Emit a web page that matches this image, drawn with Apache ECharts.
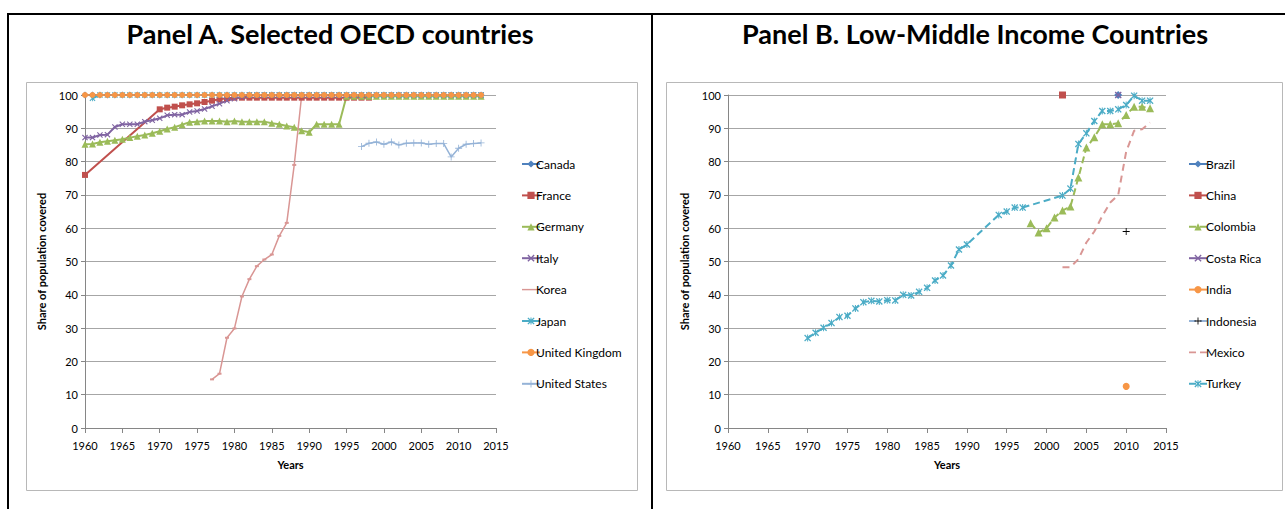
<!DOCTYPE html>
<html>
<head>
<meta charset="utf-8">
<script src="https://cdn.jsdelivr.net/npm/echarts@6/dist/echarts.min.js"></script>
<style>
  html, body { margin: 0; padding: 0; background: #fff; }
  #chart { width: 1285px; height: 509px; }
</style>
</head>
<body>
<div id="chart"></div>
<script>
// ---- Panel A: selected OECD countries (share of population covered, %) ----
const canadaStart = 1960;
const canadaVals = [100,100,100,100,100,100,100,100,100,100,100,100,100,100,100,100,100,100,100,100,
  100,100,100,100,100,100,100,100,100,100,100,100,100,100,100,100,100,100,100,100,
  100,100,100,100,100,100,100,100,100,100,100,100,100,100];

const franceYears = [1960,1970,1971,1972,1973,1974,1975,1976,1977,1978,1979,1980,1981,1982,1983,1984,
  1985,1986,1987,1988,1989,1990,1991,1992,1993,1994,1995,1996,1997,1998];
const franceVals = [76.0,95.7,96.2,96.5,96.9,97.2,97.5,97.9,98.3,98.7,99.0,99.2,99.2,99.2,99.2,99.2,
  99.2,99.2,99.2,99.2,99.2,99.2,99.2,99.2,99.2,99.2,99.2,99.2,99.2,99.2];

const germanyStart = 1960;
const germanyVals = [85.2,85.3,85.8,86.1,86.4,86.7,87.2,87.6,88.0,88.5,89.1,89.8,90.3,91.1,91.8,92.0,
  92.2,92.2,92.2,92.0,92.2,92.0,92.0,92.0,92.0,91.5,91.2,90.7,90.3,89.3,88.8,91.2,91.2,91.2,91.2,
  99.6,99.6,99.6,99.6,99.6,99.6,99.6,99.6,99.6,99.6,99.6,99.6,99.6,99.6,99.6,99.6,99.6,99.6,99.6];

const italyStart = 1960;
const italyVals = [87.2,87.2,88.0,88.1,90.4,91.2,91.2,91.2,92.0,92.4,93.0,93.9,94.1,94.1,94.9,95.2,
  95.8,96.6,97.4,98.3,98.9,99.4,
  100,100,100,100,100,100,100,100,100,100,100,100,100,100,100,100,100,100,100,100,
  100,100,100,100,100,100,100,100,100,100,100,100];

const koreaStart = 1977;
const koreaVals = [14.6,16.3,27.1,29.9,39.5,44.7,48.6,50.6,52.1,57.7,61.6,79.0,
  100,100,100,100,100,100,100,100,100,100,100,100,100,100,100,100,100,100,100,100,100,100,100,100,100];

const japanStart = 1961;
const japanVals = [99.0,100,100,100,100,100,100,100,100,100,100,100,100,100,100,100,100,100,100,100,
  100,100,100,100,100,100,100,100,100,100,100,100,100,100,100,100,100,100,100,100,
  100,100,100,100,100,100,100,100,100,100,100,100,100];

const ukStart = 1960;
const ukVals = [100,100,100,100,100,100,100,100,100,100,100,100,100,100,100,100,100,100,100,100,
  100,100,100,100,100,100,100,100,100,100,100,100,100,100,100,100,100,100,100,100,
  100,100,100,100,100,100,100,100,100,100,100,100,100,100];

const usStart = 1997;
const usVals = [84.5,85.5,85.9,85.2,85.9,85.0,85.5,85.6,85.6,85.2,85.4,85.4,81.4,84.0,85.2,85.4,85.6];

// ---- Panel B: low-middle income countries ----
const brazilYears = [2009];      const brazilVals = [100];
const chinaYears = [2002];       const chinaVals = [100];
const colombiaStart = 1998;
const colombiaVals = [61.5,58.7,60.0,63.2,65.3,66.5,75.2,84.2,87.3,91.2,91.2,91.5,94.0,96.5,96.5,96.0];
const costaRicaYears = [2009];   const costaRicaVals = [100];
const indiaYears = [2010];       const indiaVals = [12.5];
const indonesiaYears = [2010];   const indonesiaVals = [59.0];
const mexicoStart = 2002;
const mexicoVals = [48.3,48.3,50.7,55.7,59.0,63.7,67.7,70.0,83.0,89.3,89.7,91.7];
const turkeyYears = [1970,1971,1972,1973,1974,1975,1976,1977,1978,1979,1980,1981,1982,1983,1984,1985,
  1986,1987,1988,1989,1990,1994,1995,1996,1997,2002,2003,2004,2005,2006,2007,2008,2009,2010,2011,2012,2013];
const turkeyVals = [27.0,28.6,30.1,31.5,33.3,33.7,35.9,37.8,38.2,38.0,38.4,38.3,40.0,39.8,40.9,42.1,
  44.3,45.8,48.8,53.6,55.1,64.0,65.0,66.2,66.2,69.8,71.9,85.3,88.5,92.2,95.2,95.2,95.7,97.0,99.8,98.3,98.3];

// axis ticks
const yearTicks = { min: 1960, max: 2015, step: 5 };
const shareTicks = { min: 0, max: 100, step: 10 };

const namesA = ['Canada','France','Germany','Italy','Korea','Japan','United Kingdom','United States'];
const namesB = ['Brazil','China','Colombia','Costa Rica','India','Indonesia','Mexico','Turkey'];

// ---- helpers ----
function span(start, n) { const out = []; for (let i = 0; i < n; i++) out.push(start + i); return out; }
function pairs(years, vals) { return years.map((y, i) => [y, vals[i]]); }

const FONT = 'Lato, "Open Sans", "Liberation Sans", sans-serif';
const SYM_X = 'path://M0,1.3L1.3,0L5,3.7L8.7,0L10,1.3L6.3,5L10,8.7L8.7,10L5,6.3L1.3,10L0,8.7L3.7,5Z';
const SYM_AST = 'path://M0,1.3L1.3,0L5,3.7L8.7,0L10,1.3L6.3,5L10,8.7L8.7,10L5,6.3L1.3,10L0,8.7L3.7,5ZM4.3,0L5.7,0L5.7,10L4.3,10Z';
const SYM_PLUS = 'path://M4.4,0L5.6,0L5.6,4.4L10,4.4L10,5.6L5.6,5.6L5.6,10L4.4,10L4.4,5.6L0,5.6L0,4.4L4.4,4.4Z';
// legend keys for series drawn without visible markers
const KEY_SOLID = 'path://M0,0L20,0L20,1.6L0,1.6Z';
const KEY_DASHED = 'path://M0,0L7,0L7,1.6L0,1.6ZM11,0L18,0L18,1.6L11,1.6Z';

const C = {
  blue: '#4F81BD', red: '#C0504D', green: '#9BBB59', purple: '#8064A2',
  pink: '#D99694', aqua: '#4BACC6', orange: '#F79646', lightBlue: '#95B3D7'
};

function line(name, grid, data, color, symbol, size, extra) {
  extra = extra || {};
  return {
    name, type: 'line', xAxisIndex: grid, yAxisIndex: grid, data,
    symbol, symbolSize: size, showSymbol: true, connectNulls: true,
    lineStyle: { color: extra.lineColor || color, width: extra.width || 2, type: extra.dash || 'solid' },
    itemStyle: { color: extra.markColor || color },
    emphasis: { disabled: true }, animation: false, z: 2
  };
}

const series = [
  line('Canada', 0, pairs(span(canadaStart, canadaVals.length), canadaVals), C.blue, 'diamond', 7),
  line('France', 0, pairs(franceYears, franceVals), C.red, 'rect', 6),
  line('Germany', 0, pairs(span(germanyStart, germanyVals.length), germanyVals), C.green, 'triangle', 7),
  line('Italy', 0, pairs(span(italyStart, italyVals.length), italyVals), C.purple, SYM_X, 6),
  line('Korea', 0, pairs(span(koreaStart, koreaVals.length), koreaVals), C.pink, 'rect', [4, 2], { width: 1.5 }),
  line('Japan', 0, pairs(span(japanStart, japanVals.length), japanVals), C.aqua, SYM_AST, 6),
  line('United Kingdom', 0, pairs(span(ukStart, ukVals.length), ukVals), C.orange, 'circle', 6),
  line('United States', 0, pairs(span(usStart, usVals.length), usVals), C.lightBlue, SYM_PLUS, 7, { width: 1.5 }),

  line('Brazil', 1, pairs(brazilYears, brazilVals), C.blue, 'diamond', 8),
  line('China', 1, pairs(chinaYears, chinaVals), C.red, 'rect', 7),
  line('Colombia', 1, pairs(span(colombiaStart, colombiaVals.length), colombiaVals), C.green, 'triangle', 8, { dash: [7, 4] }),
  line('Costa Rica', 1, pairs(costaRicaYears, costaRicaVals), C.purple, SYM_X, 7),
  line('India', 1, pairs(indiaYears, indiaVals), C.orange, 'circle', 7),
  line('Indonesia', 1, pairs(indonesiaYears, indonesiaVals), C.lightBlue, SYM_PLUS, 7, { markColor: '#000', dash: [7, 4] }),
  line('Mexico', 1, pairs(span(mexicoStart, mexicoVals.length), mexicoVals), C.pink, 'none', 1, { dash: [7, 5] }),
  line('Turkey', 1, pairs(turkeyYears, turkeyVals), C.aqua, SYM_AST, 7, { dash: [7, 4] })
];

const AXIS_GREY = '#868686';

function xAxis(grid) {
  return {
    type: 'value', gridIndex: grid, min: yearTicks.min, max: yearTicks.max, interval: yearTicks.step,
    axisLine: { show: true, lineStyle: { color: AXIS_GREY, width: 1 } },
    axisTick: { show: true, length: 5, lineStyle: { color: AXIS_GREY } },
    axisLabel: { color: '#000', fontSize: 11, fontFamily: FONT, margin: 12, formatter: v => String(v) },
    splitLine: { show: false },
    name: 'Years', nameLocation: 'middle', nameGap: 31,
    nameTextStyle: { color: '#000', fontSize: 11, fontWeight: 'bold', fontFamily: FONT }
  };
}
function yAxis(grid) {
  return {
    type: 'value', gridIndex: grid, min: shareTicks.min, max: shareTicks.max, interval: shareTicks.step,
    axisLine: { show: true, lineStyle: { color: AXIS_GREY, width: 1 } },
    axisTick: { show: true, length: 4, lineStyle: { color: AXIS_GREY } },
    axisLabel: { color: '#000', fontSize: 11, fontFamily: FONT, margin: 7 },
    splitLine: { show: true, lineStyle: { color: '#a6a6a6', width: 1 } },
    name: 'Share of population covered', nameLocation: 'middle', nameGap: 38, nameRotate: 90,
    nameTextStyle: { color: '#000', fontSize: 11, fontWeight: 'bold', fontFamily: FONT }
  };
}

function legendData(names) {
  return names.map(n => {
    if (n === 'Korea') return { name: n, icon: KEY_SOLID };
    if (n === 'Mexico') return { name: n, icon: KEY_DASHED };
    return { name: n };
  });
}

function legend(names, left, pad) {
  return {
    data: legendData(names), orient: 'vertical', left, top: 152,
    itemWidth: 18, itemHeight: 9, itemGap: 17.4,
    textStyle: { color: '#000', fontSize: 12, fontFamily: FONT, lineHeight: 14, padding: [0, 0, 0, pad] },
    selectedMode: false
  };
}

const option = {
  backgroundColor: '#fff',
  animation: false,
  grid: [
    { left: 85, top: 95, width: 411, height: 333 },
    { left: 728, top: 95, width: 438, height: 333 }
  ],
  xAxis: [xAxis(0), xAxis(1)],
  yAxis: [yAxis(0), yAxis(1)],
  legend: [legend(namesA, 516, -9), legend(namesB, 1183, -6)],
  series,
  graphic: [
    // page cell borders
    { type: 'line', shape: { x1: 7, y1: 14, x2: 1285, y2: 14 }, style: { stroke: '#000', lineWidth: 2 }, silent: true },
    { type: 'line', shape: { x1: 8, y1: 13, x2: 8, y2: 509 }, style: { stroke: '#000', lineWidth: 2 }, silent: true },
    { type: 'line', shape: { x1: 652, y1: 13, x2: 652, y2: 509 }, style: { stroke: '#000', lineWidth: 2 }, silent: true },
    // chart frames
    { type: 'rect', shape: { x: 26.5, y: 82.5, width: 611, height: 408 }, style: { fill: 'none', stroke: '#b8b8b8', lineWidth: 1 }, silent: true },
    { type: 'rect', shape: { x: 666.5, y: 82.5, width: 616, height: 408 }, style: { fill: 'none', stroke: '#b8b8b8', lineWidth: 1 }, silent: true },
    // panel titles
    { type: 'text', x: 330, y: 33, style: { text: 'Panel A. Selected OECD countries', font: 'bold 27px ' + FONT, fill: '#000', align: 'center', verticalAlign: 'middle' }, silent: true },
    { type: 'text', x: 975, y: 33, style: { text: 'Panel B. Low-Middle Income Countries', font: 'bold 27px ' + FONT, fill: '#000', align: 'center', verticalAlign: 'middle' }, silent: true }
  ]
};

const chart = echarts.init(document.getElementById('chart'), null, { renderer: 'svg' });
chart.setOption(option);
</script>
</body>
</html>
